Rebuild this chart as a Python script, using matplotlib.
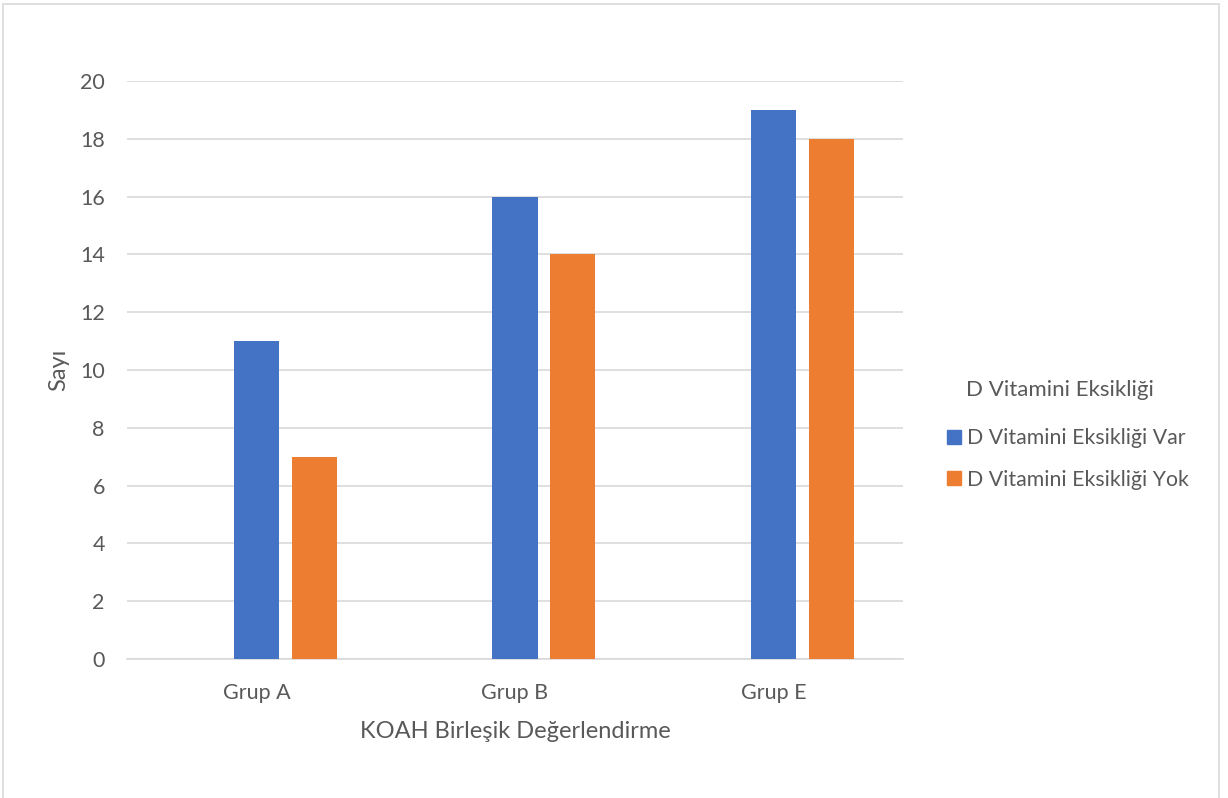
import matplotlib
matplotlib.use("Agg")
import matplotlib.pyplot as plt
from matplotlib.patches import Rectangle, Patch
import numpy as np

categories = ["Grup A", "Grup B", "Grup E"]
var_values = [11, 16, 19]
yok_values = [7, 14, 18]
series_names = ["D Vitamini Eksikliği Var", "D Vitamini Eksikliği Yok"]
legend_title = "D Vitamini Eksikliği"
x_title = "KOAH Birleşik Değerlendirme"
y_title = "Sayı"

BLUE = "#4472C4"
ORANGE = "#ED7D31"
GRID = "#D9D9D9"
TEXT = "#595959"

plt.rcParams["font.family"] = ["Lato", "DejaVu Sans"]

W, H = 1228, 798
fig = plt.figure(figsize=(W / 100, H / 100), dpi=100)

# chart frame
fig.patches.append(Rectangle((3 / W, -0.1), 1216 / W, 1.1 - 4 / H, transform=fig.transFigure,
                             fill=False, edgecolor=GRID, linewidth=1.2))

ax = fig.add_axes([127 / W, 1 - 659 / H, 776 / W, 578 / H])
x = np.arange(len(categories))
bw = 0.174
ax.bar(x, var_values, width=bw, color=BLUE, zorder=3)
ax.bar(x + 0.224, yok_values, width=bw, color=ORANGE, zorder=3)

ax.set_xlim(-0.5, len(categories) - 0.5)
ax.set_ylim(0, 20)
ax.set_yticks(np.arange(0, 21, 2))
ax.set_xticks(x)
ax.set_xticklabels(categories)
ax.grid(axis="y", color=GRID, linewidth=1.2, zorder=0)
for s in ["top", "right", "left"]:
    ax.spines[s].set_visible(False)
ax.spines["bottom"].set_color(GRID)
ax.spines["bottom"].set_linewidth(1.2)
ax.tick_params(axis="both", length=0, labelsize=15.5, labelcolor=TEXT)
ax.tick_params(axis="y", pad=16)
ax.tick_params(axis="x", pad=17)

ax.set_xlabel(x_title, fontsize=17, color=TEXT, labelpad=13)
ax.set_ylabel(y_title, fontsize=17, color=TEXT, labelpad=8)

fig.text(966 / W, 1 - 390 / H, legend_title, fontsize=16, color=TEXT, va="center", ha="left")
handles = [Patch(color=BLUE), Patch(color=ORANGE)]
fig.legend(handles, series_names, loc="upper left", bbox_to_anchor=(938 / W, 1 - 420 / H),
           frameon=False, fontsize=15.3, labelcolor=TEXT, handlelength=0.66, handleheight=0.66,
           handletextpad=0.3, labelspacing=1.0, borderaxespad=0)

fig.savefig("out.png", dpi=100, facecolor="white")
